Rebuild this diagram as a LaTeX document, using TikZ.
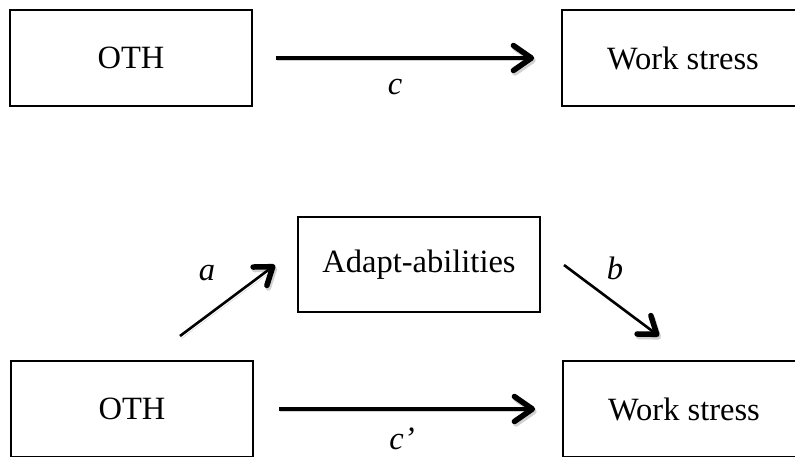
\documentclass[tikz,border=0pt]{standalone}
\usepackage{fontspec}
\setmainfont{Liberation Serif}
\usetikzlibrary{arrows.meta}
\tikzset{
  box/.style={draw=black, line width=1.7pt, minimum width=242pt, minimum height=96pt,
    inner sep=0pt, font=\fontsize{32.5}{36}\selectfont},
  shade1/.style={preaction={draw=black!18, transform canvas={shift={(1.5,2.5)}}}},
  path/.style={line width=3.4pt, shade1, -{Straight Barb[length=18pt,width=25pt,line width=5.5pt,round]}},
  diag/.style={line width=2.6pt, shade1, -{Straight Barb[length=16pt,width=23pt,line width=5.5pt,round]}},
  lab/.style={font=\fontsize{32.5}{36}\selectfont\itshape, inner sep=0pt}
}
\begin{document}
\begin{tikzpicture}[x=1pt,y=-1pt]
\clip (0,0) rectangle (795,456);
\fill[white] (0,0) rectangle (795,456);
% top model
\node[box] (oth1) at (131,58) {OTH};
\node[box] (ws1) at (683,58) {Work stress};
\draw[path, shorten <=23pt, shorten >=27pt] (oth1.east) -- (ws1.west);
\node[lab] (lc) at (395,87) {c};
% bottom model
\node[box, minimum height=95pt] (ad) at (419,264.5) {Adapt-abilities};
\node[box] (oth2) at (132,409) {OTH};
\node[box] (ws2) at (684,409) {Work stress};
\draw[path, shorten <=25pt, shorten >=27pt] (oth2.east) -- (ws2.west);
\node[lab] (lcp) at (402,439) {c’};
\coordinate (a1) at (180,336);
\coordinate (a2) at (275,265);
\coordinate (b1) at (564,265);
\coordinate (b2) at (659,336);
\draw[diag] (a1) -- (a2);
\draw[diag] (b1) -- (b2);
\node[lab] (la) at (207,273) {a};
\node[lab] (lb) at (615,268) {b};
\end{tikzpicture}
\end{document}
